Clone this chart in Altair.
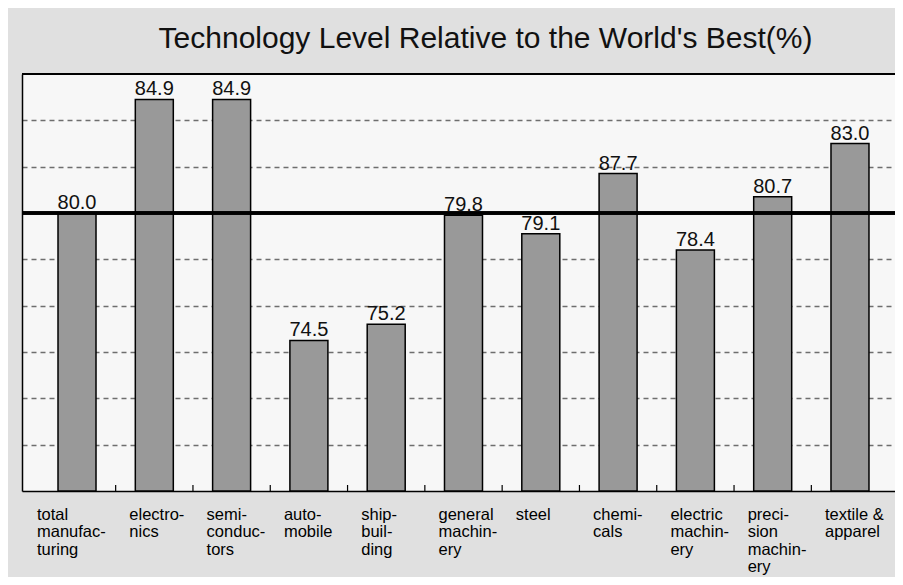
import altair as alt
import pandas as pd

categories = [
    "total|manufac-|turing", "electro-|nics", "semi-|conduc-|tors", "auto-|mobile",
    "ship-|buil-|ding", "general|machin-|ery", "steel", "chemi-|cals",
    "electric|machin-|ery", "preci-|sion|machin-|ery", "textile &|apparel",
]
bar_values = [80.0, 84.9, 84.9, 74.5, 75.2, 79.9, 79.1, 81.7, 78.4, 80.7, 83.0]
value_labels = ["80.0", "84.9", "84.9", "74.5", "75.2", "79.8", "79.1", "87.7", "78.4", "80.7", "83.0"]
grid_values = [70, 72, 74, 76, 78, 80, 82, 84]
reference_level = 80
y_min, y_max = 68, 86
title_text = "Technology Level Relative to the World's Best(%)"

df = pd.DataFrame({"cat": categories, "v": bar_values, "lab": value_labels})
ticks_df = pd.DataFrame({"cat": categories[:-1]})

sans = "Liberation Sans, Arial, sans-serif"
xscale = alt.Scale(domain=categories, paddingInner=0, paddingOuter=0.147, align=0.72)
yscale = alt.Scale(domain=[y_min, y_max], nice=False, zero=False)

xaxis = alt.Axis(
    title=None, ticks=False, domain=True, domainColor="black", domainWidth=1.5,
    labelAngle=0, labelAlign="left",
    labelOffset={"condition": {"test": "datum.value === '%s'" % categories[0], "value": -40}, "value": -25},
    labelPadding=15,
    labelBaseline="top", labelFont=sans, labelFontSize=16.5, labelLineHeight=17.5,
    labelColor="black", labelExpr="split(datum.label, '|')", labelOverlap=False,
    labelBound=False, labelLimit=300, grid=False,
)
yaxis = alt.Axis(
    title=None, values=grid_values, labels=False, ticks=False, domain=True,
    domainColor="black", domainWidth=1.5, grid=True, gridDash=[5, 4],
    gridColor="#6e6e6e", gridWidth=1.3,
)

X = alt.X("cat:N", scale=xscale, sort=categories, axis=xaxis)

bars = alt.Chart(df).mark_bar(width=38, color="#999999", stroke="black", strokeWidth=1.5).encode(
    x=X,
    y=alt.Y("v:Q", scale=yscale, axis=yaxis),
    y2=alt.datum(y_min),
)

labels = alt.Chart(df).mark_text(
    font=sans, fontSize=20, baseline="alphabetic", dy=-4, color="#111111",
).encode(
    x=X,
    y=alt.Y("v:Q", scale=yscale, axis=yaxis),
    text="lab:N",
)

ref_line = alt.Chart(df).mark_rule(color="black", strokeWidth=2.5).encode(
    y=alt.YDatum(reference_level, scale=yscale, axis=yaxis),
)

top_line = alt.Chart(df).mark_rule(color="black", strokeWidth=1.5).encode(
    y=alt.YDatum(y_max, scale=yscale, axis=yaxis),
)

tick_rules = alt.Chart(ticks_df).mark_rule(color="black", strokeWidth=1.2, y2Offset=-6).encode(
    x=alt.X("cat:N", scale=xscale, sort=categories, bandPosition=1, axis=xaxis),
    y=alt.YDatum(y_min, scale=yscale, axis=yaxis),
    y2=alt.datum(y_min),
)

chart = alt.layer(bars, ref_line, top_line, tick_rules, labels).properties(
    width=873,
    height=417,
    padding={"left": 14, "top": 66, "right": 0, "bottom": 86},
    autosize=alt.AutoSizeParams(type="none"),
    background="#e0e0e0",
    title=alt.TitleParams(
        title_text, font=sans, fontSize=30, fontWeight="normal", color="#111111",
        anchor="middle", dx=27, offset=19,
    ),
).configure_view(fill="#f7f7f7", stroke=None)

chart.save("out.html", embed_options={"renderer": "svg", "actions": False})
